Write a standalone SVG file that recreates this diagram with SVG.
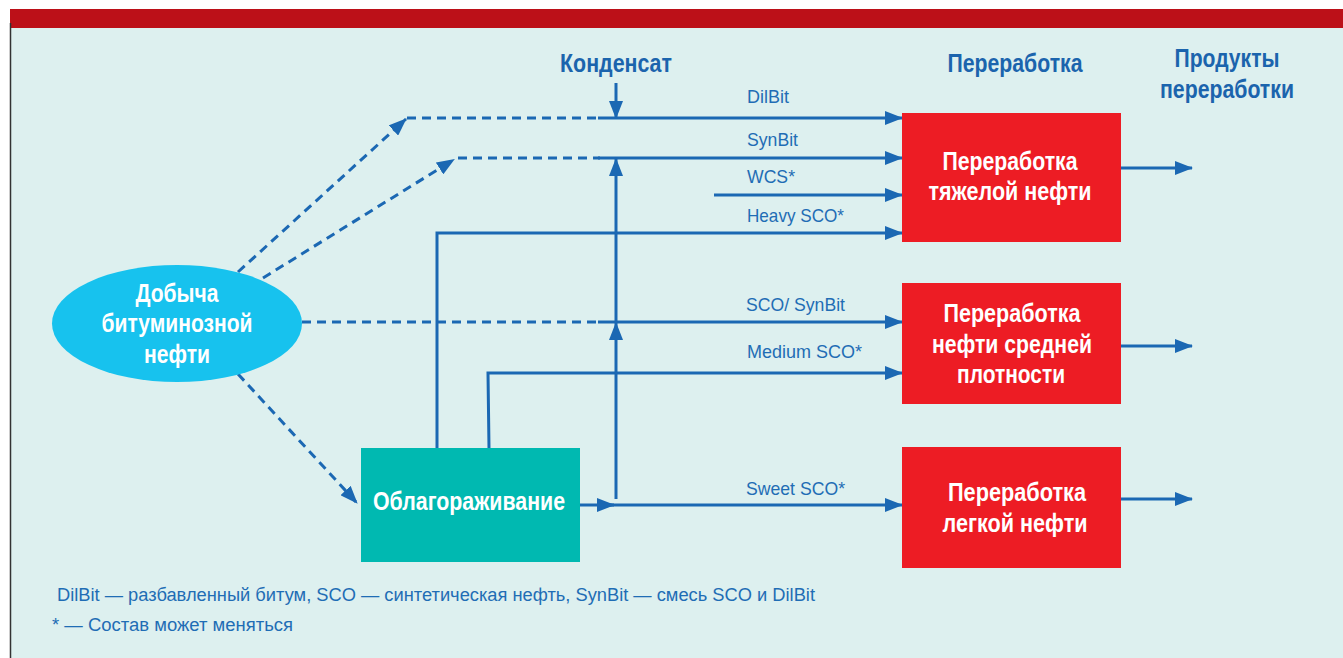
<svg xmlns="http://www.w3.org/2000/svg" width="1343" height="658" viewBox="0 0 1343 658">
<defs>
<marker id="ah" markerUnits="userSpaceOnUse" markerWidth="18" markerHeight="14" refX="17" refY="7" orient="auto">
<path d="M0,0 L18,7 L0,14 z" fill="#1b68b3"/>
</marker>
<style>
.ln{fill:none;stroke:#1b68b3;stroke-width:3}
.ds{fill:none;stroke:#1b68b3;stroke-width:3;stroke-dasharray:9 6}
.hd{font-family:"Liberation Sans Narrow","Liberation Sans",Arial,sans-serif;font-weight:bold;font-size:25px;fill:#1b64ad;text-anchor:middle}
.nt{font-family:"Liberation Sans Narrow","Liberation Sans",Arial,sans-serif;font-weight:bold;font-size:25px;fill:#ffffff;text-anchor:middle}
.lb{font-family:"Liberation Sans Narrow","Liberation Sans",Arial,sans-serif;font-size:19px;fill:#1f6db5}
.fn{font-family:"Liberation Sans Narrow","Liberation Sans",Arial,sans-serif;font-size:18px;fill:#1f6db5}
</style>
</defs>
<rect x="0" y="0" width="1343" height="658" fill="#ffffff"/>
<rect x="10" y="28" width="1333" height="630" fill="#ddf0ef"/>
<rect x="10" y="9" width="1333" height="19" fill="#bc1018"/>
<line x1="10.5" y1="23" x2="10.5" y2="658" stroke="#333333" stroke-width="1.5"/>

<g id="headers">
<text class="hd" x="616" y="72" textLength="112" lengthAdjust="spacingAndGlyphs">Конденсат</text>
<text class="hd" x="1015" y="72" textLength="135" lengthAdjust="spacingAndGlyphs">Переработка</text>
<text class="hd" x="1227" y="67" textLength="105" lengthAdjust="spacingAndGlyphs">Продукты</text>
<text class="hd" x="1227" y="98" textLength="134" lengthAdjust="spacingAndGlyphs">переработки</text>
</g>

<g id="connectors">
<line class="ds" x1="238" y1="272" x2="406" y2="119" marker-end="url(#ah)"/>
<line class="ds" x1="407" y1="118" x2="600" y2="118"/>
<line class="ds" x1="263" y1="278" x2="454" y2="159.5" marker-end="url(#ah)"/>
<line class="ds" x1="458" y1="158" x2="600" y2="158"/>
<line class="ds" x1="302" y1="322" x2="600" y2="322"/>
<line class="ds" x1="238" y1="374" x2="357" y2="503" marker-end="url(#ah)"/>
<line class="ln" x1="616" y1="83" x2="616" y2="118" marker-end="url(#ah)"/>
<line class="ln" x1="598" y1="118" x2="902" y2="118" marker-end="url(#ah)"/>
<line class="ln" x1="598" y1="158" x2="902" y2="158" marker-end="url(#ah)"/>
<line class="ln" x1="714" y1="195" x2="902" y2="195" marker-end="url(#ah)"/>
<polyline class="ln" points="437,448 437,233 902,233" marker-end="url(#ah)"/>
<line class="ln" x1="598" y1="322" x2="902" y2="322" marker-end="url(#ah)"/>
<polyline class="ln" points="489,448 488,373 902,373" marker-end="url(#ah)"/>
<line class="ln" x1="580" y1="505" x2="614" y2="505" marker-end="url(#ah)"/>
<line class="ln" x1="600" y1="505" x2="902" y2="505" marker-end="url(#ah)"/>
<line class="ln" x1="616" y1="499" x2="616" y2="323" marker-end="url(#ah)"/>
<line class="ln" x1="616" y1="323" x2="616" y2="159" marker-end="url(#ah)"/>
<line class="ln" x1="1121" y1="168" x2="1192" y2="168" marker-end="url(#ah)"/>
<line class="ln" x1="1121" y1="346" x2="1192" y2="346" marker-end="url(#ah)"/>
<line class="ln" x1="1121" y1="499" x2="1192" y2="499" marker-end="url(#ah)"/>
</g>

<g id="labels">
<text class="lb" x="747" y="103" textLength="42" lengthAdjust="spacingAndGlyphs">DilBit</text>
<text class="lb" x="747" y="146" textLength="51" lengthAdjust="spacingAndGlyphs">SynBit</text>
<text class="lb" x="747" y="183" textLength="48" lengthAdjust="spacingAndGlyphs">WCS*</text>
<text class="lb" x="747" y="222" textLength="97" lengthAdjust="spacingAndGlyphs">Heavy SCO*</text>
<text class="lb" x="746" y="311" textLength="99" lengthAdjust="spacingAndGlyphs">SCO/ SynBit</text>
<text class="lb" x="747" y="358" textLength="115" lengthAdjust="spacingAndGlyphs">Medium SCO*</text>
<text class="lb" x="746" y="495" textLength="99" lengthAdjust="spacingAndGlyphs">Sweet SCO*</text>
</g>

<g id="node-extraction">
<ellipse cx="177" cy="323.5" rx="125" ry="58.5" fill="#17c2ee"/>
<text class="nt" x="177" y="302" textLength="83" lengthAdjust="spacingAndGlyphs">Добыча</text>
<text class="nt" x="177" y="332" textLength="151" lengthAdjust="spacingAndGlyphs">битуминозной</text>
<text class="nt" x="177" y="363" textLength="66" lengthAdjust="spacingAndGlyphs">нефти</text>
</g>

<g id="node-upgrading">
<rect x="361" y="448" width="219" height="114" fill="#00b9b1"/>
<text class="nt" x="469" y="510" textLength="192" lengthAdjust="spacingAndGlyphs">Облагораживание</text>
</g>

<g id="node-heavy">
<rect x="902" y="113" width="219" height="129" fill="#ed1c24"/>
<text class="nt" x="1010" y="170" textLength="135" lengthAdjust="spacingAndGlyphs">Переработка</text>
<text class="nt" x="1010" y="200" textLength="163" lengthAdjust="spacingAndGlyphs">тяжелой нефти</text>
</g>

<g id="node-medium">
<rect x="902" y="283" width="219" height="121" fill="#ed1c24"/>
<text class="nt" x="1012" y="322" textLength="137" lengthAdjust="spacingAndGlyphs">Переработка</text>
<text class="nt" x="1012" y="353" textLength="160" lengthAdjust="spacingAndGlyphs">нефти средней</text>
<text class="nt" x="1011" y="383" textLength="108" lengthAdjust="spacingAndGlyphs">плотности</text>
</g>

<g id="node-light">
<rect x="902" y="447" width="219" height="121" fill="#ed1c24"/>
<text class="nt" x="1017" y="501" textLength="138" lengthAdjust="spacingAndGlyphs">Переработка</text>
<text class="nt" x="1015" y="532" textLength="145" lengthAdjust="spacingAndGlyphs">легкой нефти</text>
</g>

<g id="footnotes">
<text class="fn" x="57" y="601" textLength="758" lengthAdjust="spacingAndGlyphs">DilBit — разбавленный битум, SCO — синтетическая нефть, SynBit — смесь SCO и DilBit</text>
<text class="fn" x="52" y="631" textLength="241" lengthAdjust="spacingAndGlyphs">* — Состав может меняться</text>
</g>
</svg>
